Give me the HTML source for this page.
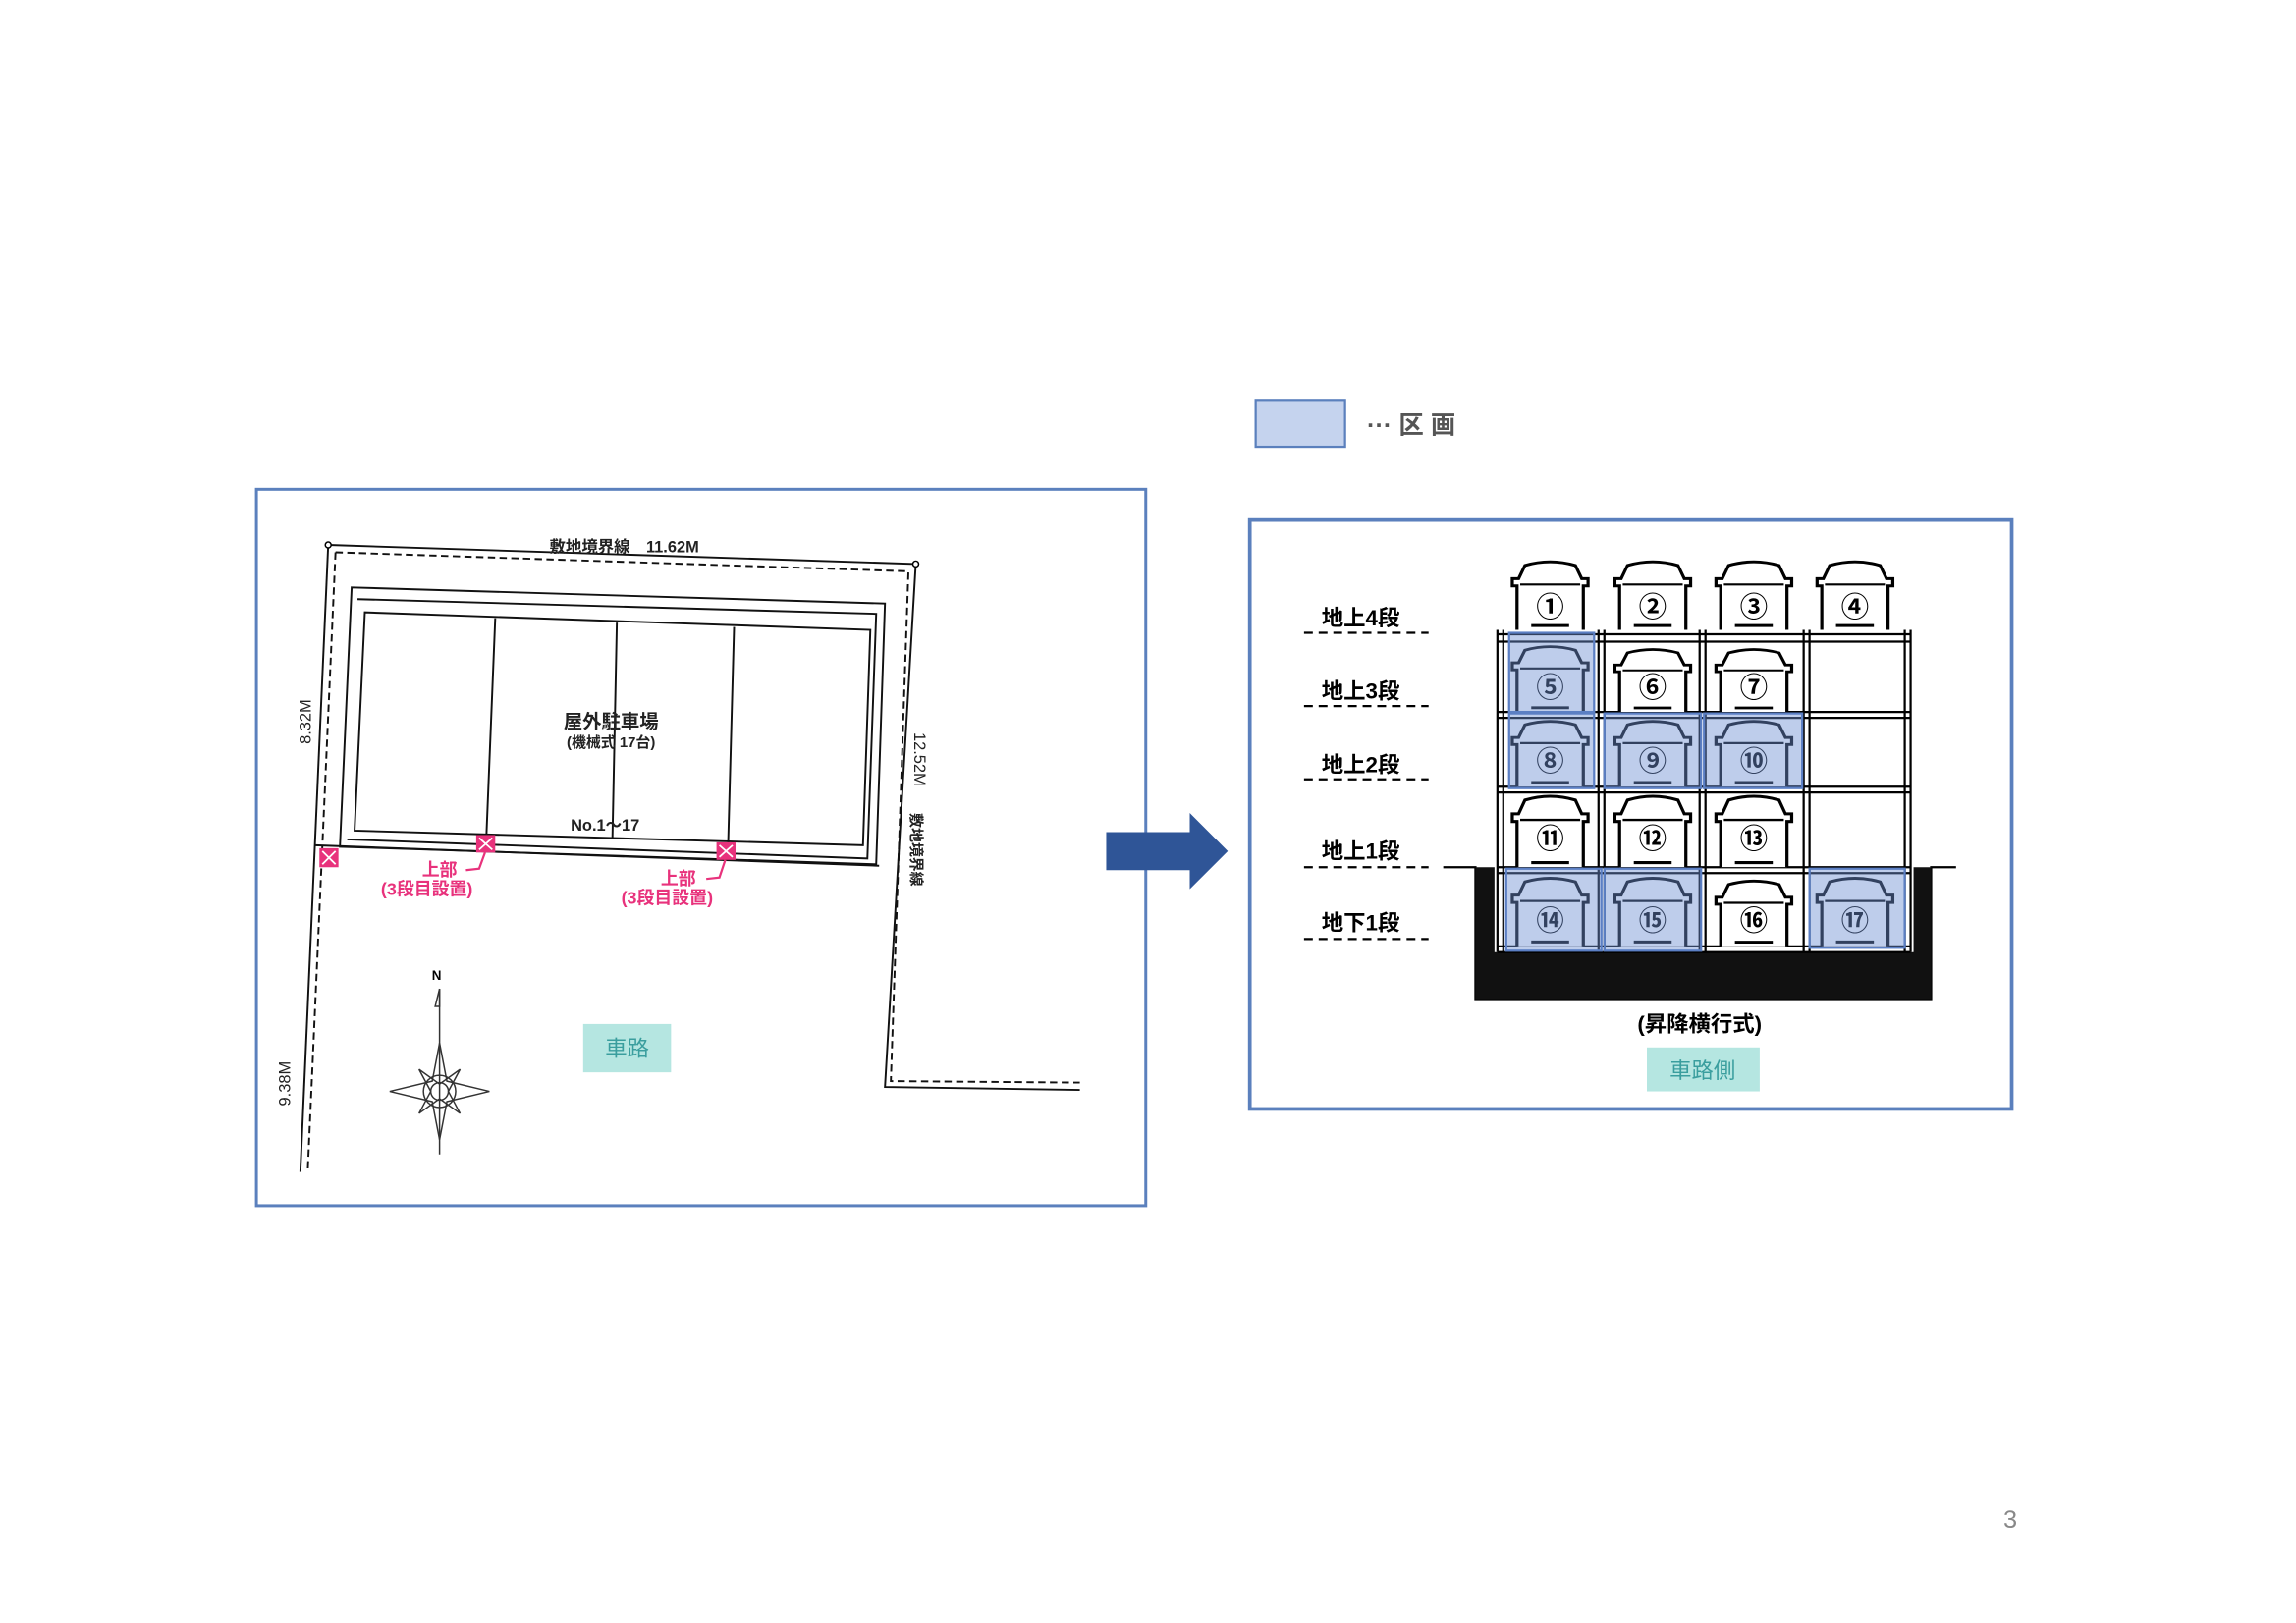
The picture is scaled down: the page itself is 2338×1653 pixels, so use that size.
<!DOCTYPE html>
<html><head><meta charset="utf-8"><style>
html,body{margin:0;padding:0;background:#fff}
svg{display:block}
text{font-family:"Liberation Sans","Noto Sans CJK JP",sans-serif}
</style></head><body>
<svg width="2338" height="1653" viewBox="0 0 2338 1653" xmlns="http://www.w3.org/2000/svg">
<defs>
<symbol id="car" viewBox="0 0 52 48" width="56" height="48" preserveAspectRatio="none">
<path d="M5 48 V18 H2 V13 H6 L10 4 Q26 -1 42 4 L46 13 H50 V18 H47 V48" fill="#fff" stroke="#000" stroke-width="2"/>
<path d="M7 17 H45" stroke="#000" stroke-width="1.5"/>
<path d="M14 45 H38" stroke="#000" stroke-width="2"/>
</symbol>
</defs>
<g transform="scale(1.492)">
<!-- LEFT PANEL -->
<rect x="175" y="334" width="607" height="489" fill="#fff" stroke="#5b80bd" stroke-width="2"/>
<g fill="none" stroke="#111" stroke-width="1.3">
<path d="M224 372 L625 385 L604 742 L737 744"/>
<path d="M229 377 L620 390 L608 738 L737 739" stroke-dasharray="5,3"/>
<path d="M224 372 L205 800"/>
<path d="M229 377 L210 800" stroke-dasharray="5,3"/>
<path d="M240 401 L604 412 L598 590 L232 578 Z"/>
<path d="M244 409 L598 419 L592 586 L237 573"/>
<path d="M249 418 L594 430 L589 577 L242 567 Z"/>
<path d="M338 422 L332 570 M421 425 L418 572 M501 428 L497 575"/>
<path d="M215 577 L600 591"/>
</g>
<circle cx="224" cy="372" r="2" fill="#fff" stroke="#000"/>
<circle cx="625" cy="385" r="2" fill="#fff" stroke="#000"/>
<text x="375" y="377" font-size="11" font-weight="bold" fill="#222">敷地境界線　11.62M</text>
<text x="417" y="497" font-size="13" font-weight="bold" text-anchor="middle" fill="#222">屋外駐車場</text>
<text x="417" y="510" font-size="10" font-weight="bold" text-anchor="middle" fill="#222">(機械式 17台)</text>
<text x="413" y="567" font-size="11" font-weight="bold" text-anchor="middle" fill="#222">No.1～17</text>
<text transform="translate(212,508) rotate(-90)" font-size="11" fill="#222">8.32M</text>
<text transform="translate(198,755) rotate(-90)" font-size="11" fill="#222">9.38M</text>
<text transform="translate(624,500) rotate(90)" font-size="11" fill="#222">12.52M</text>
<text transform="translate(622,555) rotate(90)" font-size="10" font-weight="bold" fill="#222">敷地境界線</text>
<g fill="#e8327c"><rect x="218" y="579" width="13" height="13"/><rect x="325" y="570" width="13" height="12"/><rect x="489" y="575" width="13" height="12"/></g>
<g stroke="#fff" stroke-width="1.2"><path d="M220 581 L229 590 M229 581 L220 590 M327 572 L336 580 M336 572 L327 580 M491 577 L500 585 M500 577 L491 585"/></g>
<path d="M331 582 L327 593 L318 594 M495 587 L491 599 L482 600" stroke="#e8327c" stroke-width="1.5" fill="none"/>
<g fill="#e8327c" font-weight="bold" font-size="12"><text x="288" y="598">上部</text><text x="260" y="611">(3段目設置)</text><text x="451" y="604">上部</text><text x="424" y="617">(3段目設置)</text></g>
<g stroke="#333" stroke-width="1" fill="none">
<path d="M300 675 V788"/><path d="M297 687 L300 675 V687 Z"/>
<path d="M300 712 L305 738 L334 745 L305 752 L300 778 L295 752 L266 745 L295 738 Z"/>
<path d="M286 730 L300 740 L314 730 L306 745 L314 760 L300 750 L286 760 L294 745 Z"/>
<circle cx="300" cy="745" r="11"/><circle cx="300" cy="745" r="6"/>
</g>
<text x="298" y="669" font-size="9" font-weight="bold" text-anchor="middle">N</text>
<rect x="398" y="699" width="60" height="33" fill="#b5e6e1"/>
<text x="428" y="721" font-size="15" text-anchor="middle" fill="#3a9e9e">車路</text>
<path d="M755 568 H812 V555 L838 581 L812 607 V594 H755 Z" fill="#2f5597"/>
<rect x="857" y="273" width="61" height="32" fill="#c5d3ee" stroke="#5b80bd" stroke-width="1.5"/>
<text x="933" y="296" font-size="17" font-weight="bold" fill="#555">··· 区 画</text>
<rect x="853" y="355" width="520" height="402" fill="#fff" stroke="#5b80bd" stroke-width="2.5"/>
<path d="M985 592 H1007 V682 H1318 V592 H1335 M1007 592 V682" stroke="#000" stroke-width="1.5" fill="none"/>
<path d="M1007 592 H1020 V650 H1306 V592 H1318 V682 H1007 Z" fill="#111"/>
<g stroke="#000" stroke-width="1.5" fill="none">
<path d="M1022 430 V650 M1026 430 V650 M1091 430 V650 M1095 430 V650 M1160 430 V650 M1164 430 V650 M1231 430 V650 M1235 430 V650 M1300 430 V650 M1304 430 V650"/>
<path d="M1022 433 H1304 M1022 438 H1304 M1022 486 H1304 M1022 490 H1304 M1022 537 H1304 M1022 541 H1304 M1022 592 H1304 M1022 596 H1304 M1022 646 H1304 M1022 650 H1304"/>
</g>
<use href="#car" x="1030" y="382"/><use href="#car" x="1100" y="382"/><use href="#car" x="1169" y="382"/><use href="#car" x="1238" y="382"/>
<use href="#car" x="1030" y="440" height="46"/><use href="#car" x="1100" y="442" height="44"/><use href="#car" x="1169" y="442" height="44"/>
<use href="#car" x="1030" y="491" height="46"/><use href="#car" x="1100" y="491" height="46"/><use href="#car" x="1169" y="491" height="46"/>
<use href="#car" x="1030" y="542" height="50"/><use href="#car" x="1100" y="542" height="50"/><use href="#car" x="1169" y="542" height="50"/>
<use href="#car" x="1030" y="598" height="48"/><use href="#car" x="1100" y="598" height="48"/><use href="#car" x="1169" y="600" height="46"/><use href="#car" x="1238" y="598" height="48"/>
<g font-size="19" font-weight="bold" text-anchor="middle" fill="#000">
<text x="1058" y="421">①</text><text x="1128" y="421">②</text><text x="1197" y="421">③</text><text x="1266" y="421">④</text>
<text x="1058" y="476">⑤</text><text x="1128" y="476">⑥</text><text x="1197" y="476">⑦</text>
<text x="1058" y="526">⑧</text><text x="1128" y="526">⑨</text><text x="1197" y="526">⑩</text>
<text x="1058" y="579">⑪</text><text x="1128" y="579">⑫</text><text x="1197" y="579">⑬</text>
<text x="1058" y="635">⑭</text><text x="1128" y="635">⑮</text><text x="1197" y="635">⑯</text><text x="1266" y="635">⑰</text>
</g>
<g fill="rgba(110,145,210,0.45)" stroke="#5b7fc4" stroke-width="1.5">
<rect x="1030" y="432" width="58" height="54"/><rect x="1030" y="487" width="58" height="51"/>
<rect x="1095" y="487" width="66" height="51"/><rect x="1163" y="487" width="67" height="51"/>
<rect x="1028" y="593" width="65" height="56"/><rect x="1095" y="593" width="66" height="56"/><rect x="1235" y="593" width="65" height="54"/>
</g>
<g font-size="15" font-weight="bold" fill="#000">
<text x="902" y="427">地上4段</text><text x="902" y="477">地上3段</text><text x="902" y="527">地上2段</text><text x="902" y="586">地上1段</text><text x="902" y="635">地下1段</text>
</g>
<g stroke="#000" stroke-width="1.5" stroke-dasharray="6,4"><path d="M890 432 H975 M890 482 H975 M890 532 H975 M890 592 H975 M890 641 H975"/></g>
<text x="1160" y="704" font-size="15" font-weight="bold" text-anchor="middle">(昇降横行式)</text>
<rect x="1124" y="715" width="77" height="30" fill="#b5e6e1"/>
<text x="1162" y="736" font-size="15" text-anchor="middle" fill="#3a9e9e">車路側</text>
<text x="1372" y="1043" font-size="17" text-anchor="middle" fill="#888">3</text>
</g>
</svg>
</body></html>
